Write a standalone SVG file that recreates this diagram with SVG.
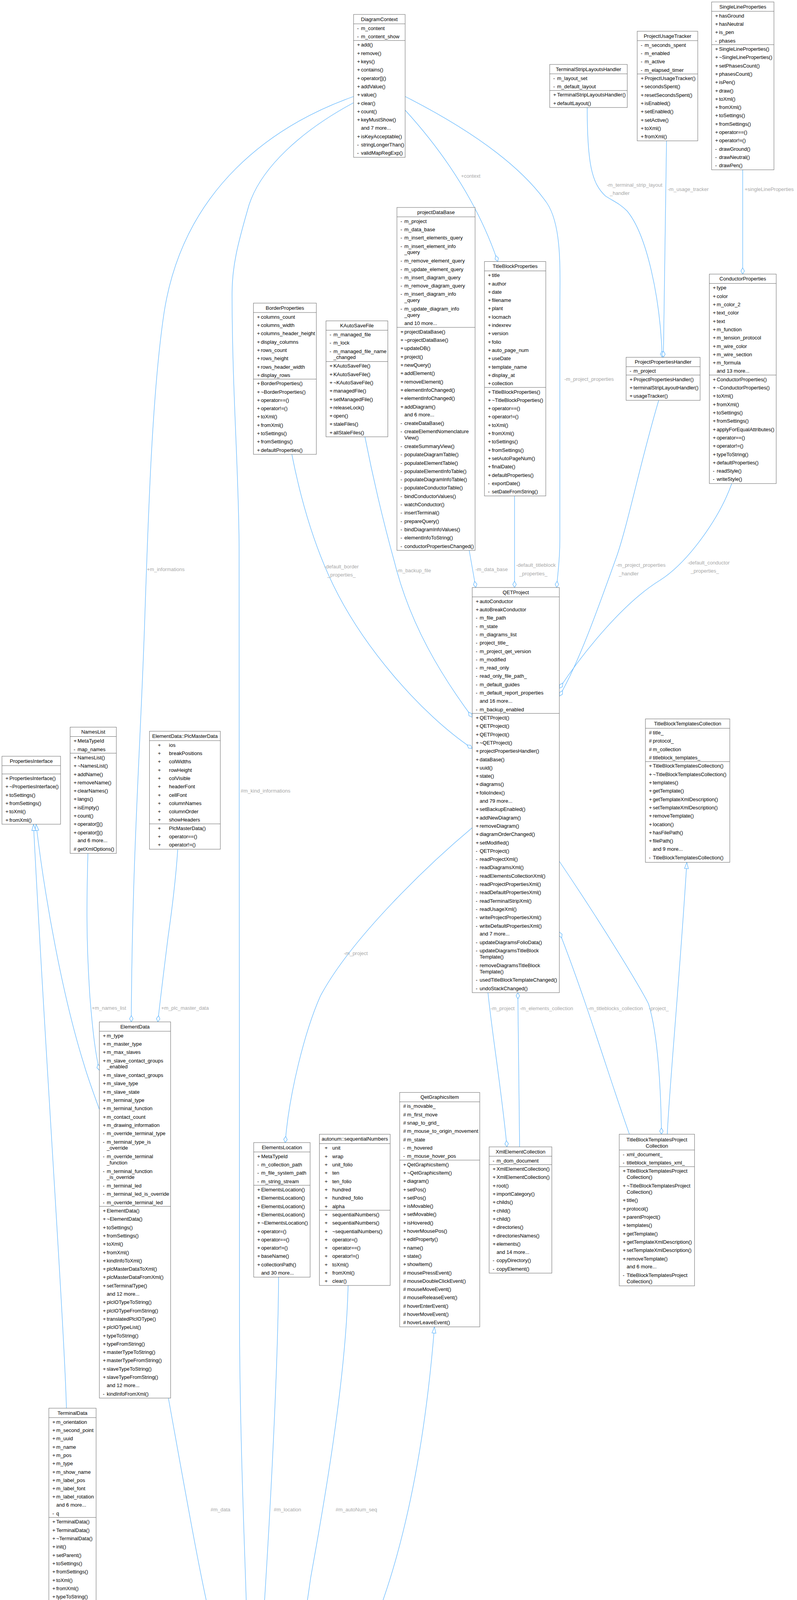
<svg xmlns="http://www.w3.org/2000/svg" width="2040" height="5984" viewBox="0 0 2040 5984">
<style>
.b{fill:#fff;stroke:#666;stroke-width:1}
.f{fill:#999;stroke:#666;stroke-width:1}
.s{stroke:#666;stroke-width:1;fill:none}
text{font-family:"Liberation Sans",Arial,Helvetica,sans-serif;font-size:13px;dominant-baseline:central;fill:#000}
.h{text-anchor:middle}
.e{fill:none;stroke:#63B8FF;stroke-width:1.3}
.l{fill:#A8A8A8}
</style>
<defs>
<marker id="dia" viewBox="0 0 18 12" markerWidth="18" markerHeight="12" refX="17" refY="6" orient="auto" markerUnits="userSpaceOnUse"><path d="M1,6 L9,1.5 L17,6 L9,10.5 Z" fill="#fff" stroke="#63B8FF" stroke-width="1.3"/></marker>
<marker id="tri" viewBox="0 0 18 12" markerWidth="18" markerHeight="12" refX="17" refY="6" orient="auto" markerUnits="userSpaceOnUse"><path d="M1,1 L17,6 L1,11 Z" fill="#fff" stroke="#63B8FF" stroke-width="1.3"/></marker>
</defs>
<rect x="0" y="0" width="2040" height="5984" fill="#fff"/>

<g id="connectors">
<path class="e" marker-end="url(#dia)" d="M1901,435 L1901,701.7"/>
<path class="e" marker-end="url(#dia)" d="M1503,275 C1503,420 1515,470 1550,502 C1570,515 1585,520 1605,540 C1655,600 1690,760 1695,914.7"/>
<path class="e" marker-end="url(#dia)" d="M1706,361 L1698,914.7"/>
<path class="e" marker-end="url(#dia)" d="M1037,247 C1200,330 1330,420 1400,520 C1440,580 1433,700 1433,800 L1433,1380 C1433,1440 1427,1470 1425,1504"/>
<path class="e" marker-end="url(#dia)" d="M1037,282 C1090,340 1210,480 1274,669.5"/>
<path class="e" marker-end="url(#dia)" d="M905,247 C700,320 470,480 420,800 C390,1000 380,1300 370,1600 C360,1900 338,2200 336,2616"/>
<path class="e" marker-end="url(#dia)" d="M905,263 C780,330 660,430 633,540 C610,620 594,680 594,750 C594,1000 611,1200 612,1400 L613,3380 C614,3700 628,4000 631.7,4146.6"/>
<path class="e" marker-end="url(#dia)" d="M747,1163 C770,1280 800,1380 840,1470 C920,1650 1080,1830 1208.7,1916"/>
<path class="e" marker-end="url(#dia)" d="M934,1118 C960,1250 985,1350 1010,1440 C1050,1600 1130,1730 1208.7,1836"/>
<path class="e" marker-end="url(#dia)" d="M1201,1409 L1217.7,1504"/>
<path class="e" marker-end="url(#dia)" d="M1317,1269.6 L1317,1504"/>
<path class="e" marker-end="url(#dia)" d="M1686,1025 C1640,1180 1610,1330 1580,1420 C1530,1560 1480,1700 1431.7,1782"/>
<path class="e" marker-end="url(#dia)" d="M1873,1238 C1840,1330 1760,1440 1690,1485 C1600,1540 1500,1660 1431.7,1762"/>
<path class="e" marker-end="url(#dia)" d="M1208.7,2119 C1100,2210 900,2400 820,2550 C780,2640 740,2800 730,2925"/>
<path class="e" marker-end="url(#dia)" d="M1249,2541 C1260,2650 1285,2800 1297.5,2936"/>
<path class="e" marker-end="url(#dia)" d="M1330,2936 L1325.4,2541.2"/>
<path class="e" marker-end="url(#dia)" d="M1611,2903.6 C1560,2760 1500,2560 1431.7,2386"/>
<path class="e" marker-end="url(#dia)" d="M1431.7,2205 C1550,2380 1640,2530 1660,2570 C1685,2650 1692,2800 1693,2903.6"/>
<path class="e" marker-end="url(#tri)" d="M1708,2903.6 C1712,2800 1740,2500 1758,2207.6"/>
<path class="e" marker-end="url(#dia)" d="M225,2184.7 C222,2300 220,2400 230,2550 C238,2650 245,2700 254.3,2740"/>
<path class="e" marker-end="url(#dia)" d="M455,2174 C450,2250 440,2330 430,2400 C420,2480 410,2560 404,2616"/>
<path class="e" marker-end="url(#tri)" d="M254.3,2840 C240,2800 225,2760 215,2725 C160,2550 115,2300 92.4,2110"/>
<path class="e" marker-end="url(#tri)" d="M170,3605 C165,3400 110,2600 85.7,2110"/>
<path class="e" marker-end="url(#dia)" d="M431,3579 C480,3850 520,4080 550,4190 C555,4215 560,4240 565.7,4258"/>
<path class="e" marker-end="url(#dia)" d="M713,3269.5 C712,3500 690,3900 674,4146.6"/>
<path class="e" marker-end="url(#dia)" d="M891,3290.8 C885,3550 820,3900 795,4040 C780,4150 760,4260 736,4322"/>
<path class="e" marker-end="url(#tri)" d="M736,4529 C800,4460 860,4380 900,4280 C1000,4100 1080,3800 1112,3396.8"/>
<path class="e" marker-end="url(#dia)" d="M565.7,4956 C520,5050 450,5120 430,5205.8"/>
<path class="e" marker-end="url(#dia)" d="M185,4120 C190,4500 330,4900 360,5205.8"/>
<path class="e" marker-end="url(#dia)" d="M471.4,5517.5 C495,5530 495,5565 495,5592 C495,5625 492,5655 471.4,5665"/>
<text class="l" x="1906" y="484">+singleLineProperties</text>
<text class="l" x="1553" y="473">-m_terminal_strip_layout</text>
<text class="l" x="1561" y="494">_handler</text>
<text class="l" x="1709" y="484">-m_usage_tracker</text>
<text class="l" x="1444.5" y="970">-m_project_properties</text>
<text class="l" x="1180" y="450">+context</text>
<text class="l" x="376" y="1457">+m_informations</text>
<text class="l" x="616" y="2024">#m_kind_informations</text>
<text class="l" x="830" y="1450">-default_border</text>
<text class="l" x="838" y="1471">_properties_</text>
<text class="l" x="1015" y="1460">-m_backup_file</text>
<text class="l" x="1216.7" y="1457">-m_data_base</text>
<text class="l" x="1321" y="1446">-default_titleblock</text>
<text class="l" x="1329" y="1468">_properties_</text>
<text class="l" x="1577" y="1446">-m_project_properties</text>
<text class="l" x="1584" y="1468">_handler</text>
<text class="l" x="1760" y="1440">-default_conductor</text>
<text class="l" x="1768" y="1461">_properties_</text>
<text class="l" x="880" y="2440">-m_project</text>
<text class="l" x="1255.6" y="2581">-m_project</text>
<text class="l" x="1330.5" y="2581">-m_elements_collection</text>
<text class="l" x="1504.7" y="2581">-m_titleblocks_collection</text>
<text class="l" x="1660.8" y="2581">-project_</text>
<text class="l" x="235" y="2580">+m_names_list</text>
<text class="l" x="412.7" y="2580">+m_plc_master_data</text>
<text class="l" x="539" y="3864">#m_data</text>
<text class="l" x="700.7" y="3864">#m_location</text>
<text class="l" x="859" y="3864">#m_autoNum_seq</text>
<text class="l" x="512" y="5169">-parent_element_</text>
<text class="l" x="280" y="4660">-d</text>
<text class="l" x="498" y="5592">-m_previous_terminal</text>
</g>

<g id="DiagramContext">
<rect class="b" x="905" y="37" width="132" height="365.8"/>
<path class="s" d="M905,61 H1037 M905,103.7 H1037"/>
<text class="h" x="971" y="49">DiagramContext</text>
<text y="71.7"><tspan x="914">-</tspan><tspan x="924">m_content</tspan></text>
<text y="93"><tspan x="914">-</tspan><tspan x="924">m_content_show</tspan></text>
<text y="114.4"><tspan x="914">+</tspan><tspan x="924">add()</tspan></text>
<text y="135.7"><tspan x="914">+</tspan><tspan x="924">remove()</tspan></text>
<text y="157"><tspan x="914">+</tspan><tspan x="924">keys()</tspan></text>
<text y="178.3"><tspan x="914">+</tspan><tspan x="924">contains()</tspan></text>
<text y="199.6"><tspan x="914">+</tspan><tspan x="924">operator[]()</tspan></text>
<text y="220.9"><tspan x="914">+</tspan><tspan x="924">addValue()</tspan></text>
<text y="242.2"><tspan x="914">+</tspan><tspan x="924">value()</tspan></text>
<text y="263.5"><tspan x="914">+</tspan><tspan x="924">clear()</tspan></text>
<text y="284.8"><tspan x="914">+</tspan><tspan x="924">count()</tspan></text>
<text y="306.1"><tspan x="914">+</tspan><tspan x="924">keyMustShow()</tspan></text>
<text x="924" y="327.4">and 7 more...</text>
<text y="348.7"><tspan x="914">+</tspan><tspan x="924">isKeyAcceptable()</tspan></text>
<text y="370"><tspan x="914">-</tspan><tspan x="924">stringLongerThan()</tspan></text>
<text y="391.3"><tspan x="914">-</tspan><tspan x="924">validMapRegExp()</tspan></text>
</g>

<g id="TerminalStripLayoutsHandler">
<rect class="b" x="1407" y="165" width="198.5" height="110.2"/>
<path class="s" d="M1407,189 H1605.5 M1407,231.7 H1605.5"/>
<text class="h" x="1506.3" y="177">TerminalStripLayoutsHandler</text>
<text y="199.7"><tspan x="1416">-</tspan><tspan x="1426">m_layout_set</tspan></text>
<text y="221"><tspan x="1416">-</tspan><tspan x="1426">m_default_layout</tspan></text>
<text y="242.4"><tspan x="1416">+</tspan><tspan x="1426">TerminalStripLayoutsHandler()</tspan></text>
<text y="263.7"><tspan x="1416">+</tspan><tspan x="1426">defaultLayout()</tspan></text>
</g>

<g id="ProjectUsageTracker">
<rect class="b" x="1631" y="80" width="155" height="280.6"/>
<path class="s" d="M1631,104 H1786 M1631,189.3 H1786"/>
<text class="h" x="1708.5" y="92">ProjectUsageTracker</text>
<text y="114.7"><tspan x="1640">-</tspan><tspan x="1650">m_seconds_spent</tspan></text>
<text y="136"><tspan x="1640">-</tspan><tspan x="1650">m_enabled</tspan></text>
<text y="157.3"><tspan x="1640">-</tspan><tspan x="1650">m_active</tspan></text>
<text y="178.6"><tspan x="1640">-</tspan><tspan x="1650">m_elapsed_timer</tspan></text>
<text y="200"><tspan x="1640">+</tspan><tspan x="1650">ProjectUsageTracker()</tspan></text>
<text y="221.3"><tspan x="1640">+</tspan><tspan x="1650">secondsSpent()</tspan></text>
<text y="242.6"><tspan x="1640">+</tspan><tspan x="1650">resetSecondsSpent()</tspan></text>
<text y="263.9"><tspan x="1640">+</tspan><tspan x="1650">isEnabled()</tspan></text>
<text y="285.2"><tspan x="1640">+</tspan><tspan x="1650">setEnabled()</tspan></text>
<text y="306.5"><tspan x="1640">+</tspan><tspan x="1650">setActive()</tspan></text>
<text y="327.8"><tspan x="1640">+</tspan><tspan x="1650">toXml()</tspan></text>
<text y="349.1"><tspan x="1640">+</tspan><tspan x="1650">fromXml()</tspan></text>
</g>

<g id="SingleLineProperties">
<rect class="b" x="1821.5" y="5" width="159.5" height="429.7"/>
<path class="s" d="M1821.5,29 H1981 M1821.5,114.3 H1981"/>
<text class="h" x="1901.3" y="17">SingleLineProperties</text>
<text y="39.7"><tspan x="1830.5">+</tspan><tspan x="1840.5">hasGround</tspan></text>
<text y="61"><tspan x="1830.5">+</tspan><tspan x="1840.5">hasNeutral</tspan></text>
<text y="82.3"><tspan x="1830.5">+</tspan><tspan x="1840.5">is_pen</tspan></text>
<text y="103.6"><tspan x="1830.5">-</tspan><tspan x="1840.5">phases</tspan></text>
<text y="125"><tspan x="1830.5">+</tspan><tspan x="1840.5">SingleLineProperties()</tspan></text>
<text y="146.3"><tspan x="1830.5">+</tspan><tspan x="1840.5">~SingleLineProperties()</tspan></text>
<text y="167.6"><tspan x="1830.5">+</tspan><tspan x="1840.5">setPhasesCount()</tspan></text>
<text y="188.9"><tspan x="1830.5">+</tspan><tspan x="1840.5">phasesCount()</tspan></text>
<text y="210.2"><tspan x="1830.5">+</tspan><tspan x="1840.5">isPen()</tspan></text>
<text y="231.5"><tspan x="1830.5">+</tspan><tspan x="1840.5">draw()</tspan></text>
<text y="252.8"><tspan x="1830.5">+</tspan><tspan x="1840.5">toXml()</tspan></text>
<text y="274.1"><tspan x="1830.5">+</tspan><tspan x="1840.5">fromXml()</tspan></text>
<text y="295.4"><tspan x="1830.5">+</tspan><tspan x="1840.5">toSettings()</tspan></text>
<text y="316.7"><tspan x="1830.5">+</tspan><tspan x="1840.5">fromSettings()</tspan></text>
<text y="338"><tspan x="1830.5">+</tspan><tspan x="1840.5">operator==()</tspan></text>
<text y="359.3"><tspan x="1830.5">+</tspan><tspan x="1840.5">operator!=()</tspan></text>
<text y="380.6"><tspan x="1830.5">-</tspan><tspan x="1840.5">drawGround()</tspan></text>
<text y="401.9"><tspan x="1830.5">-</tspan><tspan x="1840.5">drawNeutral()</tspan></text>
<text y="423.2"><tspan x="1830.5">-</tspan><tspan x="1840.5">drawPen()</tspan></text>
</g>

<g id="projectDataBase">
<rect class="b" x="1016" y="531.1" width="200" height="877.9"/>
<path class="s" d="M1016,555.1 H1216 M1016,838.1 H1216"/>
<text class="h" x="1116" y="543.1">projectDataBase</text>
<text y="565.8"><tspan x="1025">-</tspan><tspan x="1035">m_project</tspan></text>
<text y="587.1"><tspan x="1025">-</tspan><tspan x="1035">m_data_base</tspan></text>
<text y="608.4"><tspan x="1025">-</tspan><tspan x="1035">m_insert_elements_query</tspan></text>
<text y="629.7"><tspan x="1025">-</tspan><tspan x="1035">m_insert_element_info</tspan></text>
<text x="1035" y="645.9">_query</text>
<text y="667.2"><tspan x="1025">-</tspan><tspan x="1035">m_remove_element_query</tspan></text>
<text y="688.5"><tspan x="1025">-</tspan><tspan x="1035">m_update_element_query</tspan></text>
<text y="709.8"><tspan x="1025">-</tspan><tspan x="1035">m_insert_diagram_query</tspan></text>
<text y="731.1"><tspan x="1025">-</tspan><tspan x="1035">m_remove_diagram_query</tspan></text>
<text y="752.4"><tspan x="1025">-</tspan><tspan x="1035">m_insert_diagram_info</tspan></text>
<text x="1035" y="768.6">_query</text>
<text y="789.9"><tspan x="1025">-</tspan><tspan x="1035">m_update_diagram_info</tspan></text>
<text x="1035" y="806.1">_query</text>
<text x="1035" y="827.4">and 10 more...</text>
<text y="848.8"><tspan x="1025">+</tspan><tspan x="1035">projectDataBase()</tspan></text>
<text y="870.1"><tspan x="1025">+</tspan><tspan x="1035">~projectDataBase()</tspan></text>
<text y="891.4"><tspan x="1025">+</tspan><tspan x="1035">updateDB()</tspan></text>
<text y="912.7"><tspan x="1025">+</tspan><tspan x="1035">project()</tspan></text>
<text y="934"><tspan x="1025">+</tspan><tspan x="1035">newQuery()</tspan></text>
<text y="955.3"><tspan x="1025">+</tspan><tspan x="1035">addElement()</tspan></text>
<text y="976.6"><tspan x="1025">+</tspan><tspan x="1035">removeElement()</tspan></text>
<text y="997.9"><tspan x="1025">+</tspan><tspan x="1035">elementInfoChanged()</tspan></text>
<text y="1019.2"><tspan x="1025">+</tspan><tspan x="1035">elementInfoChanged()</tspan></text>
<text y="1040.5"><tspan x="1025">+</tspan><tspan x="1035">addDiagram()</tspan></text>
<text x="1035" y="1061.8">and 6 more...</text>
<text y="1083.1"><tspan x="1025">-</tspan><tspan x="1035">createDataBase()</tspan></text>
<text y="1104.4"><tspan x="1025">-</tspan><tspan x="1035">createElementNomenclature</tspan></text>
<text x="1035" y="1120.6">View()</text>
<text y="1141.9"><tspan x="1025">-</tspan><tspan x="1035">createSummaryView()</tspan></text>
<text y="1163.2"><tspan x="1025">-</tspan><tspan x="1035">populateDiagramTable()</tspan></text>
<text y="1184.5"><tspan x="1025">-</tspan><tspan x="1035">populateElementTable()</tspan></text>
<text y="1205.8"><tspan x="1025">-</tspan><tspan x="1035">populateElementInfoTable()</tspan></text>
<text y="1227.1"><tspan x="1025">-</tspan><tspan x="1035">populateDiagramInfoTable()</tspan></text>
<text y="1248.4"><tspan x="1025">-</tspan><tspan x="1035">populateConductorTable()</tspan></text>
<text y="1269.7"><tspan x="1025">-</tspan><tspan x="1035">bindConductorValues()</tspan></text>
<text y="1291"><tspan x="1025">-</tspan><tspan x="1035">watchConductor()</tspan></text>
<text y="1312.3"><tspan x="1025">-</tspan><tspan x="1035">insertTerminal()</tspan></text>
<text y="1333.6"><tspan x="1025">-</tspan><tspan x="1035">prepareQuery()</tspan></text>
<text y="1354.9"><tspan x="1025">-</tspan><tspan x="1035">bindDiagramInfoValues()</tspan></text>
<text y="1376.2"><tspan x="1025">-</tspan><tspan x="1035">elementInfoToString()</tspan></text>
<text y="1397.5"><tspan x="1025">-</tspan><tspan x="1035">conductorPropertiesChanged()</tspan></text>
</g>

<g id="TitleBlockProperties">
<rect class="b" x="1240" y="669.5" width="157" height="600.1"/>
<path class="s" d="M1240,693.5 H1397 M1240,991.8 H1397"/>
<text class="h" x="1318.5" y="681.5">TitleBlockProperties</text>
<text y="704.2"><tspan x="1249">+</tspan><tspan x="1259">title</tspan></text>
<text y="725.5"><tspan x="1249">+</tspan><tspan x="1259">author</tspan></text>
<text y="746.8"><tspan x="1249">+</tspan><tspan x="1259">date</tspan></text>
<text y="768.1"><tspan x="1249">+</tspan><tspan x="1259">filename</tspan></text>
<text y="789.4"><tspan x="1249">+</tspan><tspan x="1259">plant</tspan></text>
<text y="810.7"><tspan x="1249">+</tspan><tspan x="1259">locmach</tspan></text>
<text y="832"><tspan x="1249">+</tspan><tspan x="1259">indexrev</tspan></text>
<text y="853.3"><tspan x="1249">+</tspan><tspan x="1259">version</tspan></text>
<text y="874.6"><tspan x="1249">+</tspan><tspan x="1259">folio</tspan></text>
<text y="895.9"><tspan x="1249">+</tspan><tspan x="1259">auto_page_num</tspan></text>
<text y="917.2"><tspan x="1249">+</tspan><tspan x="1259">useDate</tspan></text>
<text y="938.5"><tspan x="1249">+</tspan><tspan x="1259">template_name</tspan></text>
<text y="959.8"><tspan x="1249">+</tspan><tspan x="1259">display_at</tspan></text>
<text y="981.1"><tspan x="1249">+</tspan><tspan x="1259">collection</tspan></text>
<text y="1002.5"><tspan x="1249">+</tspan><tspan x="1259">TitleBlockProperties()</tspan></text>
<text y="1023.8"><tspan x="1249">+</tspan><tspan x="1259">~TitleBlockProperties()</tspan></text>
<text y="1045.1"><tspan x="1249">+</tspan><tspan x="1259">operator==()</tspan></text>
<text y="1066.4"><tspan x="1249">+</tspan><tspan x="1259">operator!=()</tspan></text>
<text y="1087.7"><tspan x="1249">+</tspan><tspan x="1259">toXml()</tspan></text>
<text y="1109"><tspan x="1249">+</tspan><tspan x="1259">fromXml()</tspan></text>
<text y="1130.3"><tspan x="1249">+</tspan><tspan x="1259">toSettings()</tspan></text>
<text y="1151.6"><tspan x="1249">+</tspan><tspan x="1259">fromSettings()</tspan></text>
<text y="1172.9"><tspan x="1249">+</tspan><tspan x="1259">setAutoPageNum()</tspan></text>
<text y="1194.2"><tspan x="1249">+</tspan><tspan x="1259">finalDate()</tspan></text>
<text y="1215.5"><tspan x="1249">+</tspan><tspan x="1259">defaultProperties()</tspan></text>
<text y="1236.8"><tspan x="1249">-</tspan><tspan x="1259">exportDate()</tspan></text>
<text y="1258.1"><tspan x="1249">-</tspan><tspan x="1259">setDateFromString()</tspan></text>
</g>

<g id="BorderProperties">
<rect class="b" x="648.7" y="776" width="161" height="387.1"/>
<path class="s" d="M648.7,800 H809.7 M648.7,970.5 H809.7"/>
<text class="h" x="729.2" y="788">BorderProperties</text>
<text y="810.7"><tspan x="657.7">+</tspan><tspan x="667.7">columns_count</tspan></text>
<text y="832"><tspan x="657.7">+</tspan><tspan x="667.7">columns_width</tspan></text>
<text y="853.3"><tspan x="657.7">+</tspan><tspan x="667.7">columns_header_height</tspan></text>
<text y="874.6"><tspan x="657.7">+</tspan><tspan x="667.7">display_columns</tspan></text>
<text y="895.9"><tspan x="657.7">+</tspan><tspan x="667.7">rows_count</tspan></text>
<text y="917.2"><tspan x="657.7">+</tspan><tspan x="667.7">rows_height</tspan></text>
<text y="938.5"><tspan x="657.7">+</tspan><tspan x="667.7">rows_header_width</tspan></text>
<text y="959.8"><tspan x="657.7">+</tspan><tspan x="667.7">display_rows</tspan></text>
<text y="981.2"><tspan x="657.7">+</tspan><tspan x="667.7">BorderProperties()</tspan></text>
<text y="1002.5"><tspan x="657.7">+</tspan><tspan x="667.7">~BorderProperties()</tspan></text>
<text y="1023.8"><tspan x="657.7">+</tspan><tspan x="667.7">operator==()</tspan></text>
<text y="1045.1"><tspan x="657.7">+</tspan><tspan x="667.7">operator!=()</tspan></text>
<text y="1066.4"><tspan x="657.7">+</tspan><tspan x="667.7">toXml()</tspan></text>
<text y="1087.7"><tspan x="657.7">+</tspan><tspan x="667.7">fromXml()</tspan></text>
<text y="1109"><tspan x="657.7">+</tspan><tspan x="667.7">toSettings()</tspan></text>
<text y="1130.3"><tspan x="657.7">+</tspan><tspan x="667.7">fromSettings()</tspan></text>
<text y="1151.6"><tspan x="657.7">+</tspan><tspan x="667.7">defaultProperties()</tspan></text>
</g>

<g id="KAutoSaveFile">
<rect class="b" x="834.4" y="821.4" width="158.3" height="296.8"/>
<path class="s" d="M834.4,845.4 H992.7 M834.4,925.6 H992.7"/>
<text class="h" x="913.6" y="833.4">KAutoSaveFile</text>
<text y="856.1"><tspan x="843.4">-</tspan><tspan x="853.4">m_managed_file</tspan></text>
<text y="877.4"><tspan x="843.4">-</tspan><tspan x="853.4">m_lock</tspan></text>
<text y="898.7"><tspan x="843.4">-</tspan><tspan x="853.4">m_managed_file_name</tspan></text>
<text x="853.4" y="914.9">_changed</text>
<text y="936.3"><tspan x="843.4">+</tspan><tspan x="853.4">KAutoSaveFile()</tspan></text>
<text y="957.6"><tspan x="843.4">+</tspan><tspan x="853.4">KAutoSaveFile()</tspan></text>
<text y="978.9"><tspan x="843.4">+</tspan><tspan x="853.4">~KAutoSaveFile()</tspan></text>
<text y="1000.2"><tspan x="843.4">+</tspan><tspan x="853.4">managedFile()</tspan></text>
<text y="1021.5"><tspan x="843.4">+</tspan><tspan x="853.4">setManagedFile()</tspan></text>
<text y="1042.8"><tspan x="843.4">+</tspan><tspan x="853.4">releaseLock()</tspan></text>
<text y="1064.1"><tspan x="843.4">+</tspan><tspan x="853.4">open()</tspan></text>
<text y="1085.4"><tspan x="843.4">+</tspan><tspan x="853.4">staleFiles()</tspan></text>
<text y="1106.7"><tspan x="843.4">+</tspan><tspan x="853.4">allStaleFiles()</tspan></text>
</g>

<g id="ConductorProperties">
<rect class="b" x="1815.6" y="701.7" width="171.2" height="536.2"/>
<path class="s" d="M1815.6,725.7 H1986.8 M1815.6,960.1 H1986.8"/>
<text class="h" x="1901.2" y="713.7">ConductorProperties</text>
<text y="736.4"><tspan x="1824.6">+</tspan><tspan x="1834.6">type</tspan></text>
<text y="757.7"><tspan x="1824.6">+</tspan><tspan x="1834.6">color</tspan></text>
<text y="779"><tspan x="1824.6">+</tspan><tspan x="1834.6">m_color_2</tspan></text>
<text y="800.3"><tspan x="1824.6">+</tspan><tspan x="1834.6">text_color</tspan></text>
<text y="821.6"><tspan x="1824.6">+</tspan><tspan x="1834.6">text</tspan></text>
<text y="842.9"><tspan x="1824.6">+</tspan><tspan x="1834.6">m_function</tspan></text>
<text y="864.2"><tspan x="1824.6">+</tspan><tspan x="1834.6">m_tension_protocol</tspan></text>
<text y="885.5"><tspan x="1824.6">+</tspan><tspan x="1834.6">m_wire_color</tspan></text>
<text y="906.8"><tspan x="1824.6">+</tspan><tspan x="1834.6">m_wire_section</tspan></text>
<text y="928.1"><tspan x="1824.6">+</tspan><tspan x="1834.6">m_formula</tspan></text>
<text x="1834.6" y="949.4">and 13 more...</text>
<text y="970.8"><tspan x="1824.6">+</tspan><tspan x="1834.6">ConductorProperties()</tspan></text>
<text y="992.1"><tspan x="1824.6">+</tspan><tspan x="1834.6">~ConductorProperties()</tspan></text>
<text y="1013.4"><tspan x="1824.6">+</tspan><tspan x="1834.6">toXml()</tspan></text>
<text y="1034.7"><tspan x="1824.6">+</tspan><tspan x="1834.6">fromXml()</tspan></text>
<text y="1056"><tspan x="1824.6">+</tspan><tspan x="1834.6">toSettings()</tspan></text>
<text y="1077.3"><tspan x="1824.6">+</tspan><tspan x="1834.6">fromSettings()</tspan></text>
<text y="1098.6"><tspan x="1824.6">+</tspan><tspan x="1834.6">applyForEqualAttributes()</tspan></text>
<text y="1119.9"><tspan x="1824.6">+</tspan><tspan x="1834.6">operator==()</tspan></text>
<text y="1141.2"><tspan x="1824.6">+</tspan><tspan x="1834.6">operator!=()</tspan></text>
<text y="1162.5"><tspan x="1824.6">+</tspan><tspan x="1834.6">typeToString()</tspan></text>
<text y="1183.8"><tspan x="1824.6">+</tspan><tspan x="1834.6">defaultProperties()</tspan></text>
<text y="1205.1"><tspan x="1824.6">-</tspan><tspan x="1834.6">readStyle()</tspan></text>
<text y="1226.4"><tspan x="1824.6">-</tspan><tspan x="1834.6">writeStyle()</tspan></text>
</g>

<g id="ProjectPropertiesHandler">
<rect class="b" x="1602.6" y="914.7" width="189.4" height="110.2"/>
<path class="s" d="M1602.6,938.7 H1792 M1602.6,960.1 H1792"/>
<text class="h" x="1697.3" y="926.7">ProjectPropertiesHandler</text>
<text y="949.4"><tspan x="1611.6">-</tspan><tspan x="1621.6">m_project</tspan></text>
<text y="970.8"><tspan x="1611.6">+</tspan><tspan x="1621.6">ProjectPropertiesHandler()</tspan></text>
<text y="992.1"><tspan x="1611.6">+</tspan><tspan x="1621.6">terminalStripLayoutHandler()</tspan></text>
<text y="1013.4"><tspan x="1611.6">+</tspan><tspan x="1621.6">usageTracker()</tspan></text>
</g>

<g id="QETProject">
<rect class="b" x="1208.7" y="1504" width="223" height="1037.2"/>
<path class="s" d="M1208.7,1528 H1431.7 M1208.7,1826.3 H1431.7"/>
<text class="h" x="1320.2" y="1516">QETProject</text>
<text y="1538.7"><tspan x="1217.7">+</tspan><tspan x="1227.7">autoConductor</tspan></text>
<text y="1560"><tspan x="1217.7">+</tspan><tspan x="1227.7">autoBreakConductor</tspan></text>
<text y="1581.3"><tspan x="1217.7">-</tspan><tspan x="1227.7">m_file_path</tspan></text>
<text y="1602.6"><tspan x="1217.7">-</tspan><tspan x="1227.7">m_state</tspan></text>
<text y="1623.9"><tspan x="1217.7">-</tspan><tspan x="1227.7">m_diagrams_list</tspan></text>
<text y="1645.2"><tspan x="1217.7">-</tspan><tspan x="1227.7">project_title_</tspan></text>
<text y="1666.5"><tspan x="1217.7">-</tspan><tspan x="1227.7">m_project_qet_version</tspan></text>
<text y="1687.8"><tspan x="1217.7">-</tspan><tspan x="1227.7">m_modified</tspan></text>
<text y="1709.1"><tspan x="1217.7">-</tspan><tspan x="1227.7">m_read_only</tspan></text>
<text y="1730.4"><tspan x="1217.7">-</tspan><tspan x="1227.7">read_only_file_path_</tspan></text>
<text y="1751.7"><tspan x="1217.7">-</tspan><tspan x="1227.7">m_default_guides</tspan></text>
<text y="1773"><tspan x="1217.7">-</tspan><tspan x="1227.7">m_default_report_properties</tspan></text>
<text x="1227.7" y="1794.3">and 16 more...</text>
<text y="1815.6"><tspan x="1217.7">-</tspan><tspan x="1227.7">m_backup_enabled</tspan></text>
<text y="1837"><tspan x="1217.7">+</tspan><tspan x="1227.7">QETProject()</tspan></text>
<text y="1858.3"><tspan x="1217.7">+</tspan><tspan x="1227.7">QETProject()</tspan></text>
<text y="1879.6"><tspan x="1217.7">+</tspan><tspan x="1227.7">QETProject()</tspan></text>
<text y="1900.9"><tspan x="1217.7">+</tspan><tspan x="1227.7">~QETProject()</tspan></text>
<text y="1922.2"><tspan x="1217.7">+</tspan><tspan x="1227.7">projectPropertiesHandler()</tspan></text>
<text y="1943.5"><tspan x="1217.7">+</tspan><tspan x="1227.7">dataBase()</tspan></text>
<text y="1964.8"><tspan x="1217.7">+</tspan><tspan x="1227.7">uuid()</tspan></text>
<text y="1986.1"><tspan x="1217.7">+</tspan><tspan x="1227.7">state()</tspan></text>
<text y="2007.4"><tspan x="1217.7">+</tspan><tspan x="1227.7">diagrams()</tspan></text>
<text y="2028.7"><tspan x="1217.7">+</tspan><tspan x="1227.7">folioIndex()</tspan></text>
<text x="1227.7" y="2050">and 79 more...</text>
<text y="2071.3"><tspan x="1217.7">+</tspan><tspan x="1227.7">setBackupEnabled()</tspan></text>
<text y="2092.6"><tspan x="1217.7">+</tspan><tspan x="1227.7">addNewDiagram()</tspan></text>
<text y="2113.9"><tspan x="1217.7">+</tspan><tspan x="1227.7">removeDiagram()</tspan></text>
<text y="2135.2"><tspan x="1217.7">+</tspan><tspan x="1227.7">diagramOrderChanged()</tspan></text>
<text y="2156.5"><tspan x="1217.7">+</tspan><tspan x="1227.7">setModified()</tspan></text>
<text y="2177.8"><tspan x="1217.7">-</tspan><tspan x="1227.7">QETProject()</tspan></text>
<text y="2199.1"><tspan x="1217.7">-</tspan><tspan x="1227.7">readProjectXml()</tspan></text>
<text y="2220.4"><tspan x="1217.7">-</tspan><tspan x="1227.7">readDiagramsXml()</tspan></text>
<text y="2241.7"><tspan x="1217.7">-</tspan><tspan x="1227.7">readElementsCollectionXml()</tspan></text>
<text y="2263"><tspan x="1217.7">-</tspan><tspan x="1227.7">readProjectPropertiesXml()</tspan></text>
<text y="2284.3"><tspan x="1217.7">-</tspan><tspan x="1227.7">readDefaultPropertiesXml()</tspan></text>
<text y="2305.6"><tspan x="1217.7">-</tspan><tspan x="1227.7">readTerminalStripXml()</tspan></text>
<text y="2326.9"><tspan x="1217.7">-</tspan><tspan x="1227.7">readUsageXml()</tspan></text>
<text y="2348.2"><tspan x="1217.7">-</tspan><tspan x="1227.7">writeProjectPropertiesXml()</tspan></text>
<text y="2369.5"><tspan x="1217.7">-</tspan><tspan x="1227.7">writeDefaultPropertiesXml()</tspan></text>
<text x="1227.7" y="2390.8">and 7 more...</text>
<text y="2412.1"><tspan x="1217.7">-</tspan><tspan x="1227.7">updateDiagramsFolioData()</tspan></text>
<text y="2433.4"><tspan x="1217.7">-</tspan><tspan x="1227.7">updateDiagramsTitleBlock</tspan></text>
<text x="1227.7" y="2449.6">Template()</text>
<text y="2470.9"><tspan x="1217.7">-</tspan><tspan x="1227.7">removeDiagramsTitleBlock</tspan></text>
<text x="1227.7" y="2487.1">Template()</text>
<text y="2508.4"><tspan x="1217.7">-</tspan><tspan x="1227.7">usedTitleBlockTemplateChanged()</tspan></text>
<text y="2529.7"><tspan x="1217.7">-</tspan><tspan x="1227.7">undoStackChanged()</tspan></text>
</g>

<g id="PropertiesInterface">
<rect class="b" x="5" y="1936" width="150" height="174"/>
<path class="s" d="M5,1960 H155 M5,1981.3 H155"/>
<text class="h" x="80" y="1948">PropertiesInterface</text>
<text y="1992"><tspan x="14">+</tspan><tspan x="24">PropertiesInterface()</tspan></text>
<text y="2013.3"><tspan x="14">+</tspan><tspan x="24">~PropertiesInterface()</tspan></text>
<text y="2034.6"><tspan x="14">+</tspan><tspan x="24">toSettings()</tspan></text>
<text y="2055.9"><tspan x="14">+</tspan><tspan x="24">fromSettings()</tspan></text>
<text y="2077.2"><tspan x="14">+</tspan><tspan x="24">toXml()</tspan></text>
<text y="2098.5"><tspan x="14">+</tspan><tspan x="24">fromXml()</tspan></text>
</g>

<g id="NamesList">
<rect class="b" x="179.5" y="1861.5" width="118.3" height="323.2"/>
<path class="s" d="M179.5,1885.5 H297.8 M179.5,1928.2 H297.8"/>
<text class="h" x="238.7" y="1873.5">NamesList</text>
<text y="1896.2"><tspan x="188.5">+</tspan><tspan x="198.5">MetaTypeId</tspan></text>
<text y="1917.5"><tspan x="188.5">-</tspan><tspan x="198.5">map_names</tspan></text>
<text y="1938.9"><tspan x="188.5">+</tspan><tspan x="198.5">NamesList()</tspan></text>
<text y="1960.2"><tspan x="188.5">+</tspan><tspan x="198.5">~NamesList()</tspan></text>
<text y="1981.5"><tspan x="188.5">+</tspan><tspan x="198.5">addName()</tspan></text>
<text y="2002.8"><tspan x="188.5">+</tspan><tspan x="198.5">removeName()</tspan></text>
<text y="2024.1"><tspan x="188.5">+</tspan><tspan x="198.5">clearNames()</tspan></text>
<text y="2045.4"><tspan x="188.5">+</tspan><tspan x="198.5">langs()</tspan></text>
<text y="2066.7"><tspan x="188.5">+</tspan><tspan x="198.5">isEmpty()</tspan></text>
<text y="2088"><tspan x="188.5">+</tspan><tspan x="198.5">count()</tspan></text>
<text y="2109.3"><tspan x="188.5">+</tspan><tspan x="198.5">operator[]()</tspan></text>
<text y="2130.6"><tspan x="188.5">+</tspan><tspan x="198.5">operator[]()</tspan></text>
<text x="198.5" y="2151.9">and 6 more...</text>
<text y="2173.2"><tspan x="188.5">#</tspan><tspan x="198.5">getXmlOptions()</tspan></text>
</g>

<g id="PlcMasterData">
<rect class="b" x="382.6" y="1872" width="181.4" height="302"/>
<path class="s" d="M382.6,1896 H564 M382.6,2109.1 H564"/>
<text class="h" x="473.3" y="1884">ElementData::PlcMasterData</text>
<text y="1906.7"><tspan x="404">+</tspan><tspan x="432.6">ios</tspan></text>
<text y="1928"><tspan x="404">+</tspan><tspan x="432.6">breakPositions</tspan></text>
<text y="1949.3"><tspan x="404">+</tspan><tspan x="432.6">colWidths</tspan></text>
<text y="1970.6"><tspan x="404">+</tspan><tspan x="432.6">rowHeight</tspan></text>
<text y="1991.9"><tspan x="404">+</tspan><tspan x="432.6">colVisible</tspan></text>
<text y="2013.2"><tspan x="404">+</tspan><tspan x="432.6">headerFont</tspan></text>
<text y="2034.5"><tspan x="404">+</tspan><tspan x="432.6">cellFont</tspan></text>
<text y="2055.8"><tspan x="404">+</tspan><tspan x="432.6">columnNames</tspan></text>
<text y="2077.1"><tspan x="404">+</tspan><tspan x="432.6">columnOrder</tspan></text>
<text y="2098.4"><tspan x="404">+</tspan><tspan x="432.6">showHeaders</tspan></text>
<text y="2119.8"><tspan x="404">+</tspan><tspan x="432.6">PlcMasterData()</tspan></text>
<text y="2141.1"><tspan x="404">+</tspan><tspan x="432.6">operator==()</tspan></text>
<text y="2162.4"><tspan x="404">+</tspan><tspan x="432.6">operator!=()</tspan></text>
</g>

<g id="ElementData">
<rect class="b" x="254.3" y="2616" width="182.4" height="963.1"/>
<path class="s" d="M254.3,2640 H436.7 M254.3,3088.3 H436.7"/>
<text class="h" x="345.5" y="2628">ElementData</text>
<text y="2650.7"><tspan x="263.3">+</tspan><tspan x="273.3">m_type</tspan></text>
<text y="2672"><tspan x="263.3">+</tspan><tspan x="273.3">m_master_type</tspan></text>
<text y="2693.3"><tspan x="263.3">+</tspan><tspan x="273.3">m_max_slaves</tspan></text>
<text y="2714.6"><tspan x="263.3">+</tspan><tspan x="273.3">m_slave_contact_groups</tspan></text>
<text x="273.3" y="2730.8">_enabled</text>
<text y="2752.1"><tspan x="263.3">+</tspan><tspan x="273.3">m_slave_contact_groups</tspan></text>
<text y="2773.4"><tspan x="263.3">+</tspan><tspan x="273.3">m_slave_type</tspan></text>
<text y="2794.7"><tspan x="263.3">+</tspan><tspan x="273.3">m_slave_state</tspan></text>
<text y="2816"><tspan x="263.3">+</tspan><tspan x="273.3">m_terminal_type</tspan></text>
<text y="2837.3"><tspan x="263.3">+</tspan><tspan x="273.3">m_terminal_function</tspan></text>
<text y="2858.6"><tspan x="263.3">+</tspan><tspan x="273.3">m_contact_count</tspan></text>
<text y="2879.9"><tspan x="263.3">+</tspan><tspan x="273.3">m_drawing_information</tspan></text>
<text y="2901.2"><tspan x="263.3">-</tspan><tspan x="273.3">m_override_terminal_type</tspan></text>
<text y="2922.5"><tspan x="263.3">-</tspan><tspan x="273.3">m_terminal_type_is</tspan></text>
<text x="273.3" y="2938.7">_override</text>
<text y="2960"><tspan x="263.3">-</tspan><tspan x="273.3">m_override_terminal</tspan></text>
<text x="273.3" y="2976.2">_function</text>
<text y="2997.5"><tspan x="263.3">-</tspan><tspan x="273.3">m_terminal_function</tspan></text>
<text x="273.3" y="3013.7">_is_override</text>
<text y="3035"><tspan x="263.3">-</tspan><tspan x="273.3">m_terminal_led</tspan></text>
<text y="3056.3"><tspan x="263.3">-</tspan><tspan x="273.3">m_terminal_led_is_override</tspan></text>
<text y="3077.6"><tspan x="263.3">-</tspan><tspan x="273.3">m_override_terminal_led</tspan></text>
<text y="3099"><tspan x="263.3">+</tspan><tspan x="273.3">ElementData()</tspan></text>
<text y="3120.3"><tspan x="263.3">+</tspan><tspan x="273.3">~ElementData()</tspan></text>
<text y="3141.6"><tspan x="263.3">+</tspan><tspan x="273.3">toSettings()</tspan></text>
<text y="3162.9"><tspan x="263.3">+</tspan><tspan x="273.3">fromSettings()</tspan></text>
<text y="3184.2"><tspan x="263.3">+</tspan><tspan x="273.3">toXml()</tspan></text>
<text y="3205.5"><tspan x="263.3">+</tspan><tspan x="273.3">fromXml()</tspan></text>
<text y="3226.8"><tspan x="263.3">+</tspan><tspan x="273.3">kindInfoToXml()</tspan></text>
<text y="3248.1"><tspan x="263.3">+</tspan><tspan x="273.3">plcMasterDataToXml()</tspan></text>
<text y="3269.4"><tspan x="263.3">+</tspan><tspan x="273.3">plcMasterDataFromXml()</tspan></text>
<text y="3290.7"><tspan x="263.3">+</tspan><tspan x="273.3">setTerminalType()</tspan></text>
<text x="273.3" y="3312">and 12 more...</text>
<text y="3333.3"><tspan x="263.3">+</tspan><tspan x="273.3">plcIOTypeToString()</tspan></text>
<text y="3354.6"><tspan x="263.3">+</tspan><tspan x="273.3">plcIOTypeFromString()</tspan></text>
<text y="3375.9"><tspan x="263.3">+</tspan><tspan x="273.3">translatedPlcIOType()</tspan></text>
<text y="3397.2"><tspan x="263.3">+</tspan><tspan x="273.3">plcIOTypeList()</tspan></text>
<text y="3418.5"><tspan x="263.3">+</tspan><tspan x="273.3">typeToString()</tspan></text>
<text y="3439.8"><tspan x="263.3">+</tspan><tspan x="273.3">typeFromString()</tspan></text>
<text y="3461.1"><tspan x="263.3">+</tspan><tspan x="273.3">masterTypeToString()</tspan></text>
<text y="3482.4"><tspan x="263.3">+</tspan><tspan x="273.3">masterTypeFromString()</tspan></text>
<text y="3503.7"><tspan x="263.3">+</tspan><tspan x="273.3">slaveTypeToString()</tspan></text>
<text y="3525"><tspan x="263.3">+</tspan><tspan x="273.3">slaveTypeFromString()</tspan></text>
<text x="273.3" y="3546.3">and 12 more...</text>
<text y="3567.6"><tspan x="263.3">-</tspan><tspan x="273.3">kindInfoFromXml()</tspan></text>
</g>

<g id="TitleBlockTemplatesCollection">
<rect class="b" x="1652" y="1840.4" width="216" height="367.2"/>
<path class="s" d="M1652,1864.4 H1868 M1652,1949.7 H1868"/>
<text class="h" x="1760" y="1852.4">TitleBlockTemplatesCollection</text>
<text y="1875.1"><tspan x="1661">#</tspan><tspan x="1671">title_</tspan></text>
<text y="1896.4"><tspan x="1661">#</tspan><tspan x="1671">protocol_</tspan></text>
<text y="1917.7"><tspan x="1661">#</tspan><tspan x="1671">m_collection</tspan></text>
<text y="1939"><tspan x="1661">#</tspan><tspan x="1671">titleblock_templates_</tspan></text>
<text y="1960.4"><tspan x="1661">+</tspan><tspan x="1671">TitleBlockTemplatesCollection()</tspan></text>
<text y="1981.7"><tspan x="1661">+</tspan><tspan x="1671">~TitleBlockTemplatesCollection()</tspan></text>
<text y="2003"><tspan x="1661">+</tspan><tspan x="1671">templates()</tspan></text>
<text y="2024.3"><tspan x="1661">+</tspan><tspan x="1671">getTemplate()</tspan></text>
<text y="2045.6"><tspan x="1661">+</tspan><tspan x="1671">getTemplateXmlDescription()</tspan></text>
<text y="2066.9"><tspan x="1661">+</tspan><tspan x="1671">setTemplateXmlDescription()</tspan></text>
<text y="2088.2"><tspan x="1661">+</tspan><tspan x="1671">removeTemplate()</tspan></text>
<text y="2109.5"><tspan x="1661">+</tspan><tspan x="1671">location()</tspan></text>
<text y="2130.8"><tspan x="1661">+</tspan><tspan x="1671">hasFilePath()</tspan></text>
<text y="2152.1"><tspan x="1661">+</tspan><tspan x="1671">filePath()</tspan></text>
<text x="1671" y="2173.4">and 9 more...</text>
<text y="2194.7"><tspan x="1661">-</tspan><tspan x="1671">TitleBlockTemplatesCollection()</tspan></text>
</g>

<g id="ElementsLocation">
<rect class="b" x="649.4" y="2925" width="144.4" height="344.5"/>
<path class="s" d="M649.4,2949 H793.8 M649.4,3034.3 H793.8"/>
<text class="h" x="721.6" y="2937">ElementsLocation</text>
<text y="2959.7"><tspan x="658.4">+</tspan><tspan x="668.4">MetaTypeId</tspan></text>
<text y="2981"><tspan x="658.4">-</tspan><tspan x="668.4">m_collection_path</tspan></text>
<text y="3002.3"><tspan x="658.4">-</tspan><tspan x="668.4">m_file_system_path</tspan></text>
<text y="3023.6"><tspan x="658.4">-</tspan><tspan x="668.4">m_string_stream</tspan></text>
<text y="3045"><tspan x="658.4">+</tspan><tspan x="668.4">ElementsLocation()</tspan></text>
<text y="3066.3"><tspan x="658.4">+</tspan><tspan x="668.4">ElementsLocation()</tspan></text>
<text y="3087.6"><tspan x="658.4">+</tspan><tspan x="668.4">ElementsLocation()</tspan></text>
<text y="3108.9"><tspan x="658.4">+</tspan><tspan x="668.4">ElementsLocation()</tspan></text>
<text y="3130.2"><tspan x="658.4">+</tspan><tspan x="668.4">~ElementsLocation()</tspan></text>
<text y="3151.5"><tspan x="658.4">+</tspan><tspan x="668.4">operator=()</tspan></text>
<text y="3172.8"><tspan x="658.4">+</tspan><tspan x="668.4">operator==()</tspan></text>
<text y="3194.1"><tspan x="658.4">+</tspan><tspan x="668.4">operator!=()</tspan></text>
<text y="3215.4"><tspan x="658.4">+</tspan><tspan x="668.4">baseName()</tspan></text>
<text y="3236.7"><tspan x="658.4">+</tspan><tspan x="668.4">collectionPath()</tspan></text>
<text x="668.4" y="3258">and 30 more...</text>
</g>

<g id="sequentialNumbers">
<rect class="b" x="817.5" y="2903.7" width="181.2" height="387.1"/>
<path class="s" d="M817.5,2927.7 H998.7 M817.5,3098.2 H998.7"/>
<text class="h" x="908.1" y="2915.7">autonum::sequentialNumbers</text>
<text y="2938.4"><tspan x="831">+</tspan><tspan x="850.5">unit</tspan></text>
<text y="2959.7"><tspan x="831">+</tspan><tspan x="850.5">wrap</tspan></text>
<text y="2981"><tspan x="831">+</tspan><tspan x="850.5">unit_folio</tspan></text>
<text y="3002.3"><tspan x="831">+</tspan><tspan x="850.5">ten</tspan></text>
<text y="3023.6"><tspan x="831">+</tspan><tspan x="850.5">ten_folio</tspan></text>
<text y="3044.9"><tspan x="831">+</tspan><tspan x="850.5">hundred</tspan></text>
<text y="3066.2"><tspan x="831">+</tspan><tspan x="850.5">hundred_folio</tspan></text>
<text y="3087.5"><tspan x="831">+</tspan><tspan x="850.5">alpha</tspan></text>
<text y="3108.9"><tspan x="831">+</tspan><tspan x="850.5">sequentialNumbers()</tspan></text>
<text y="3130.2"><tspan x="831">+</tspan><tspan x="850.5">sequentialNumbers()</tspan></text>
<text y="3151.5"><tspan x="831">+</tspan><tspan x="850.5">~sequentialNumbers()</tspan></text>
<text y="3172.8"><tspan x="831">+</tspan><tspan x="850.5">operator=()</tspan></text>
<text y="3194.1"><tspan x="831">+</tspan><tspan x="850.5">operator==()</tspan></text>
<text y="3215.4"><tspan x="831">+</tspan><tspan x="850.5">operator!=()</tspan></text>
<text y="3236.7"><tspan x="831">+</tspan><tspan x="850.5">toXml()</tspan></text>
<text y="3258"><tspan x="831">+</tspan><tspan x="850.5">fromXml()</tspan></text>
<text y="3279.3"><tspan x="831">+</tspan><tspan x="850.5">clear()</tspan></text>
</g>

<g id="QetGraphicsItem">
<rect class="b" x="1023" y="2796.7" width="205" height="600.1"/>
<path class="s" d="M1023,2820.7 H1228 M1023,2969.9 H1228"/>
<text class="h" x="1125.5" y="2808.7">QetGraphicsItem</text>
<text y="2831.4"><tspan x="1032">#</tspan><tspan x="1042">is_movable_</tspan></text>
<text y="2852.7"><tspan x="1032">#</tspan><tspan x="1042">m_first_move</tspan></text>
<text y="2874"><tspan x="1032">#</tspan><tspan x="1042">snap_to_grid_</tspan></text>
<text y="2895.3"><tspan x="1032">#</tspan><tspan x="1042">m_mouse_to_origin_movement</tspan></text>
<text y="2916.6"><tspan x="1032">#</tspan><tspan x="1042">m_state</tspan></text>
<text y="2937.9"><tspan x="1032">-</tspan><tspan x="1042">m_hovered</tspan></text>
<text y="2959.2"><tspan x="1032">-</tspan><tspan x="1042">m_mouse_hover_pos</tspan></text>
<text y="2980.6"><tspan x="1032">+</tspan><tspan x="1042">QetGraphicsItem()</tspan></text>
<text y="3001.9"><tspan x="1032">+</tspan><tspan x="1042">~QetGraphicsItem()</tspan></text>
<text y="3023.2"><tspan x="1032">+</tspan><tspan x="1042">diagram()</tspan></text>
<text y="3044.5"><tspan x="1032">+</tspan><tspan x="1042">setPos()</tspan></text>
<text y="3065.8"><tspan x="1032">+</tspan><tspan x="1042">setPos()</tspan></text>
<text y="3087.1"><tspan x="1032">+</tspan><tspan x="1042">isMovable()</tspan></text>
<text y="3108.4"><tspan x="1032">+</tspan><tspan x="1042">setMovable()</tspan></text>
<text y="3129.7"><tspan x="1032">+</tspan><tspan x="1042">isHovered()</tspan></text>
<text y="3151"><tspan x="1032">+</tspan><tspan x="1042">hoverMousePos()</tspan></text>
<text y="3172.3"><tspan x="1032">+</tspan><tspan x="1042">editProperty()</tspan></text>
<text y="3193.6"><tspan x="1032">+</tspan><tspan x="1042">name()</tspan></text>
<text y="3214.9"><tspan x="1032">+</tspan><tspan x="1042">state()</tspan></text>
<text y="3236.2"><tspan x="1032">+</tspan><tspan x="1042">showItem()</tspan></text>
<text y="3257.5"><tspan x="1032">#</tspan><tspan x="1042">mousePressEvent()</tspan></text>
<text y="3278.8"><tspan x="1032">#</tspan><tspan x="1042">mouseDoubleClickEvent()</tspan></text>
<text y="3300.1"><tspan x="1032">#</tspan><tspan x="1042">mouseMoveEvent()</tspan></text>
<text y="3321.4"><tspan x="1032">#</tspan><tspan x="1042">mouseReleaseEvent()</tspan></text>
<text y="3342.7"><tspan x="1032">#</tspan><tspan x="1042">hoverEnterEvent()</tspan></text>
<text y="3364"><tspan x="1032">#</tspan><tspan x="1042">hoverMoveEvent()</tspan></text>
<text y="3385.3"><tspan x="1032">#</tspan><tspan x="1042">hoverLeaveEvent()</tspan></text>
</g>

<g id="XmlElementCollection">
<rect class="b" x="1252" y="2936" width="160.5" height="323.2"/>
<path class="s" d="M1252,2960 H1412.5 M1252,2981.4 H1412.5"/>
<text class="h" x="1332.3" y="2948">XmlElementCollection</text>
<text y="2970.7"><tspan x="1261">-</tspan><tspan x="1271">m_dom_document</tspan></text>
<text y="2992.1"><tspan x="1261">+</tspan><tspan x="1271">XmlElementCollection()</tspan></text>
<text y="3013.4"><tspan x="1261">+</tspan><tspan x="1271">XmlElementCollection()</tspan></text>
<text y="3034.7"><tspan x="1261">+</tspan><tspan x="1271">root()</tspan></text>
<text y="3056"><tspan x="1261">+</tspan><tspan x="1271">importCategory()</tspan></text>
<text y="3077.3"><tspan x="1261">+</tspan><tspan x="1271">childs()</tspan></text>
<text y="3098.6"><tspan x="1261">+</tspan><tspan x="1271">child()</tspan></text>
<text y="3119.9"><tspan x="1261">+</tspan><tspan x="1271">child()</tspan></text>
<text y="3141.2"><tspan x="1261">+</tspan><tspan x="1271">directories()</tspan></text>
<text y="3162.5"><tspan x="1261">+</tspan><tspan x="1271">directoriesNames()</tspan></text>
<text y="3183.8"><tspan x="1261">+</tspan><tspan x="1271">elements()</tspan></text>
<text x="1271" y="3205.1">and 14 more...</text>
<text y="3226.4"><tspan x="1261">-</tspan><tspan x="1271">copyDirectory()</tspan></text>
<text y="3247.7"><tspan x="1261">-</tspan><tspan x="1271">copyElement()</tspan></text>
</g>

<g id="TitleBlockTemplatesProjectCollection">
<rect class="b" x="1585" y="2903.6" width="192.7" height="388.2"/>
<path class="s" d="M1585,2944 H1777.7 M1585,2986.7 H1777.7"/>
<text class="h" x="1681.4" y="2917.5">TitleBlockTemplatesProject</text>
<text class="h" x="1681.4" y="2933">Collection</text>
<text y="2954.7"><tspan x="1594">-</tspan><tspan x="1604">xml_document_</tspan></text>
<text y="2976"><tspan x="1594">-</tspan><tspan x="1604">titleblock_templates_xml_</tspan></text>
<text y="2997.4"><tspan x="1594">+</tspan><tspan x="1604">TitleBlockTemplatesProject</tspan></text>
<text x="1604" y="3013.6">Collection()</text>
<text y="3034.9"><tspan x="1594">+</tspan><tspan x="1604">~TitleBlockTemplatesProject</tspan></text>
<text x="1604" y="3051.1">Collection()</text>
<text y="3072.4"><tspan x="1594">+</tspan><tspan x="1604">title()</tspan></text>
<text y="3093.7"><tspan x="1594">+</tspan><tspan x="1604">protocol()</tspan></text>
<text y="3115"><tspan x="1594">+</tspan><tspan x="1604">parentProject()</tspan></text>
<text y="3136.3"><tspan x="1594">+</tspan><tspan x="1604">templates()</tspan></text>
<text y="3157.6"><tspan x="1594">+</tspan><tspan x="1604">getTemplate()</tspan></text>
<text y="3178.9"><tspan x="1594">+</tspan><tspan x="1604">getTemplateXmlDescription()</tspan></text>
<text y="3200.2"><tspan x="1594">+</tspan><tspan x="1604">setTemplateXmlDescription()</tspan></text>
<text y="3221.5"><tspan x="1594">+</tspan><tspan x="1604">removeTemplate()</tspan></text>
<text x="1604" y="3242.8">and 6 more...</text>
<text y="3264.1"><tspan x="1594">-</tspan><tspan x="1604">TitleBlockTemplatesProject</tspan></text>
<text x="1604" y="3280.3">Collection()</text>
</g>

<g id="TerminalData">
<rect class="b" x="125" y="3605" width="121" height="514.9"/>
<path class="s" d="M125,3629 H246 M125,3884.7 H246"/>
<text class="h" x="185.5" y="3617">TerminalData</text>
<text y="3639.7"><tspan x="134">+</tspan><tspan x="144">m_orientation</tspan></text>
<text y="3661"><tspan x="134">+</tspan><tspan x="144">m_second_point</tspan></text>
<text y="3682.3"><tspan x="134">+</tspan><tspan x="144">m_uuid</tspan></text>
<text y="3703.6"><tspan x="134">+</tspan><tspan x="144">m_name</tspan></text>
<text y="3724.9"><tspan x="134">+</tspan><tspan x="144">m_pos</tspan></text>
<text y="3746.2"><tspan x="134">+</tspan><tspan x="144">m_type</tspan></text>
<text y="3767.5"><tspan x="134">+</tspan><tspan x="144">m_show_name</tspan></text>
<text y="3788.8"><tspan x="134">+</tspan><tspan x="144">m_label_pos</tspan></text>
<text y="3810.1"><tspan x="134">+</tspan><tspan x="144">m_label_font</tspan></text>
<text y="3831.4"><tspan x="134">+</tspan><tspan x="144">m_label_rotation</tspan></text>
<text x="144" y="3852.7">and 6 more...</text>
<text y="3874"><tspan x="134">-</tspan><tspan x="144">q</tspan></text>
<text y="3895.4"><tspan x="134">+</tspan><tspan x="144">TerminalData()</tspan></text>
<text y="3916.7"><tspan x="134">+</tspan><tspan x="144">TerminalData()</tspan></text>
<text y="3938"><tspan x="134">+</tspan><tspan x="144">~TerminalData()</tspan></text>
<text y="3959.3"><tspan x="134">+</tspan><tspan x="144">init()</tspan></text>
<text y="3980.6"><tspan x="134">+</tspan><tspan x="144">setParent()</tspan></text>
<text y="4001.9"><tspan x="134">+</tspan><tspan x="144">toSettings()</tspan></text>
<text y="4023.2"><tspan x="134">+</tspan><tspan x="144">fromSettings()</tspan></text>
<text y="4044.5"><tspan x="134">+</tspan><tspan x="144">toXml()</tspan></text>
<text y="4065.8"><tspan x="134">+</tspan><tspan x="144">fromXml()</tspan></text>
<text y="4087.1"><tspan x="134">+</tspan><tspan x="144">typeToString()</tspan></text>
<text y="4108.4"><tspan x="134">+</tspan><tspan x="144">typeFromString()</tspan></text>
</g>

<g id="Element">
<rect class="b" x="565.7" y="4146.6" width="170.3" height="983.5"/>
<path class="s" d="M565.7,4170.6 H736 M565.7,4554.1 H736"/>
<text class="h" x="650.9" y="4158.6">Element</text>
<text y="4181.3"><tspan x="574.7">#</tspan><tspan x="584.7">connected_elements</tspan></text>
<text y="4202.6"><tspan x="574.7">#</tspan><tspan x="584.7">tmp_uuids_link</tspan></text>
<text y="4223.9"><tspan x="574.7">#</tspan><tspan x="584.7">m_group_index_map</tspan></text>
<text y="4245.2"><tspan x="574.7">#</tspan><tspan x="584.7">m_uuid</tspan></text>
<text y="4266.5"><tspan x="574.7">#</tspan><tspan x="584.7">m_link_type</tspan></text>
<text y="4287.8"><tspan x="574.7">#</tspan><tspan x="584.7">m_freeze_label</tspan></text>
<text y="4309.1"><tspan x="574.7">#</tspan><tspan x="584.7">m_F_str</tspan></text>
<text y="4330.4"><tspan x="574.7">#</tspan><tspan x="584.7">m_terminals</tspan></text>
<text y="4351.7"><tspan x="574.7">#</tspan><tspan x="584.7">m_picture</tspan></text>
<text y="4373"><tspan x="574.7">#</tspan><tspan x="584.7">m_low_zoom_picture</tspan></text>
<text y="4394.3"><tspan x="574.7">#</tspan><tspan x="584.7">m_plc_table_positions</tspan></text>
<text y="4415.6"><tspan x="574.7">-</tspan><tspan x="584.7">m_must_highlight</tspan></text>
<text y="4436.9"><tspan x="574.7">-</tspan><tspan x="584.7">dimensions</tspan></text>
<text y="4458.2"><tspan x="574.7">-</tspan><tspan x="584.7">hotspot_coord</tspan></text>
<text y="4479.5"><tspan x="574.7">-</tspan><tspan x="584.7">m_mouse_over</tspan></text>
<text y="4500.8"><tspan x="574.7">-</tspan><tspan x="584.7">m_prefix</tspan></text>
<text y="4522.1"><tspan x="574.7">-</tspan><tspan x="584.7">m_dynamic_text_list</tspan></text>
<text y="4543.4"><tspan x="574.7">-</tspan><tspan x="584.7">m_texts_group</tspan></text>
<text y="4564.8"><tspan x="574.7">+</tspan><tspan x="584.7">Element()</tspan></text>
<text y="4586.1"><tspan x="574.7">+</tspan><tspan x="584.7">~Element()</tspan></text>
<text y="4607.4"><tspan x="574.7">+</tspan><tspan x="584.7">type()</tspan></text>
<text y="4628.7"><tspan x="574.7">+</tspan><tspan x="584.7">terminals()</tspan></text>
<text y="4650"><tspan x="574.7">+</tspan><tspan x="584.7">conductors()</tspan></text>
<text y="4671.3"><tspan x="574.7">+</tspan><tspan x="584.7">AlignedFreeTerminals()</tspan></text>
<text y="4692.6"><tspan x="574.7">+</tspan><tspan x="584.7">elementInformations()</tspan></text>
<text y="4713.9"><tspan x="574.7">+</tspan><tspan x="584.7">setElementInformations()</tspan></text>
<text y="4735.2"><tspan x="574.7">+</tspan><tspan x="584.7">elementData()</tspan></text>
<text y="4756.5"><tspan x="574.7">+</tspan><tspan x="584.7">setElementData()</tspan></text>
<text x="584.7" y="4777.8">and 47 more...</text>
<text y="4799.1"><tspan x="574.7">+</tspan><tspan x="584.7">valideXml()</tspan></text>
<text y="4820.4"><tspan x="574.7">+</tspan><tspan x="584.7">updateConductorTexts()</tspan></text>
<text y="4841.7"><tspan x="574.7">#</tspan><tspan x="584.7">drawAxes()</tspan></text>
<text y="4863"><tspan x="574.7">#</tspan><tspan x="584.7">setSize()</tspan></text>
<text y="4884.3"><tspan x="574.7">#</tspan><tspan x="584.7">mouseMoveEvent()</tspan></text>
<text y="4905.6"><tspan x="574.7">#</tspan><tspan x="584.7">mouseReleaseEvent()</tspan></text>
<text y="4926.9"><tspan x="574.7">#</tspan><tspan x="584.7">hoverEnterEvent()</tspan></text>
<text y="4948.2"><tspan x="574.7">#</tspan><tspan x="584.7">hoverLeaveEvent()</tspan></text>
<text y="4969.5"><tspan x="574.7">#</tspan><tspan x="584.7">drawPlcTable()</tspan></text>
<text y="4990.8"><tspan x="574.7">-</tspan><tspan x="584.7">Element()</tspan></text>
<text y="5012.1"><tspan x="574.7">-</tspan><tspan x="584.7">drawHighlight()</tspan></text>
<text y="5033.4"><tspan x="574.7">-</tspan><tspan x="584.7">buildFromXml()</tspan></text>
<text y="5054.7"><tspan x="574.7">-</tspan><tspan x="584.7">parseElement()</tspan></text>
<text y="5076"><tspan x="574.7">-</tspan><tspan x="584.7">parseInput()</tspan></text>
<text y="5097.3"><tspan x="574.7">-</tspan><tspan x="584.7">parseDynamicText()</tspan></text>
<text y="5118.6"><tspan x="574.7">-</tspan><tspan x="584.7">parseTerminal()</tspan></text>
</g>

<g id="Terminal">
<rect class="f" x="318.5" y="5205.8" width="153" height="770.6"/>
<path class="s" d="M318.5,5229.8 H471.5 M318.5,5528.2 H471.5"/>
<text class="h" x="395" y="5217.8">Terminal</text>
<text y="5240.5"><tspan x="327.5">+</tspan><tspan x="337.5">dock_elmt_</tspan></text>
<text y="5261.8"><tspan x="327.5">+</tspan><tspan x="337.5">terminalSize</tspan></text>
<text y="5283.1"><tspan x="327.5">+</tspan><tspan x="337.5">Z</tspan></text>
<text y="5304.4"><tspan x="327.5">+</tspan><tspan x="337.5">neutralColor</tspan></text>
<text y="5325.7"><tspan x="327.5">+</tspan><tspan x="337.5">allowedColor</tspan></text>
<text y="5347"><tspan x="327.5">+</tspan><tspan x="337.5">warningColor</tspan></text>
<text y="5368.3"><tspan x="327.5">+</tspan><tspan x="337.5">forbiddenColor</tspan></text>
<text y="5389.6"><tspan x="327.5">-</tspan><tspan x="337.5">m_draw_help_line</tspan></text>
<text y="5410.9"><tspan x="327.5">-</tspan><tspan x="337.5">m_help_line</tspan></text>
<text y="5432.2"><tspan x="327.5">-</tspan><tspan x="337.5">m_help_line_a</tspan></text>
<text y="5453.5"><tspan x="327.5">-</tspan><tspan x="337.5">m_conductors_list</tspan></text>
<text y="5474.8"><tspan x="327.5">-</tspan><tspan x="337.5">m_br</tspan></text>
<text y="5496.1"><tspan x="327.5">-</tspan><tspan x="337.5">m_hovered</tspan></text>
<text y="5517.4"><tspan x="327.5">-</tspan><tspan x="337.5">m_hovered_color</tspan></text>
<text y="5538.9"><tspan x="327.5">+</tspan><tspan x="337.5">Terminal()</tspan></text>
<text y="5560.2"><tspan x="327.5">+</tspan><tspan x="337.5">~Terminal()</tspan></text>
<text y="5581.5"><tspan x="327.5">+</tspan><tspan x="337.5">type()</tspan></text>
<text y="5602.8"><tspan x="327.5">+</tspan><tspan x="337.5">paint()</tspan></text>
<text y="5624.1"><tspan x="327.5">+</tspan><tspan x="337.5">drawHelpLine()</tspan></text>
<text y="5645.4"><tspan x="327.5">+</tspan><tspan x="337.5">HelpLine()</tspan></text>
<text y="5666.7"><tspan x="327.5">+</tspan><tspan x="337.5">boundingRect()</tspan></text>
<text y="5688"><tspan x="327.5">+</tspan><tspan x="337.5">alignedWithTerminal()</tspan></text>
<text y="5709.3"><tspan x="327.5">+</tspan><tspan x="337.5">addConductor()</tspan></text>
<text y="5730.6"><tspan x="327.5">+</tspan><tspan x="337.5">removeConductor()</tspan></text>
<text x="337.5" y="5751.9">and 20 more...</text>
<text y="5773.2"><tspan x="327.5">+</tspan><tspan x="337.5">valideXml()</tspan></text>
<text y="5794.5"><tspan x="327.5">#</tspan><tspan x="337.5">hoverEnterEvent()</tspan></text>
<text y="5815.8"><tspan x="327.5">#</tspan><tspan x="337.5">hoverMoveEvent()</tspan></text>
<text y="5837.1"><tspan x="327.5">#</tspan><tspan x="337.5">hoverLeaveEvent()</tspan></text>
<text y="5858.4"><tspan x="327.5">#</tspan><tspan x="337.5">mousePressEvent()</tspan></text>
<text y="5879.7"><tspan x="327.5">#</tspan><tspan x="337.5">mouseMoveEvent()</tspan></text>
<text y="5901"><tspan x="327.5">#</tspan><tspan x="337.5">mouseReleaseEvent()</tspan></text>
<text y="5922.3"><tspan x="327.5">-</tspan><tspan x="337.5">Terminal()</tspan></text>
<text y="5943.6"><tspan x="327.5">-</tspan><tspan x="337.5">init()</tspan></text>
<text y="5964.9"><tspan x="327.5">-</tspan><tspan x="337.5">init()</tspan></text>
</g>
</svg>
